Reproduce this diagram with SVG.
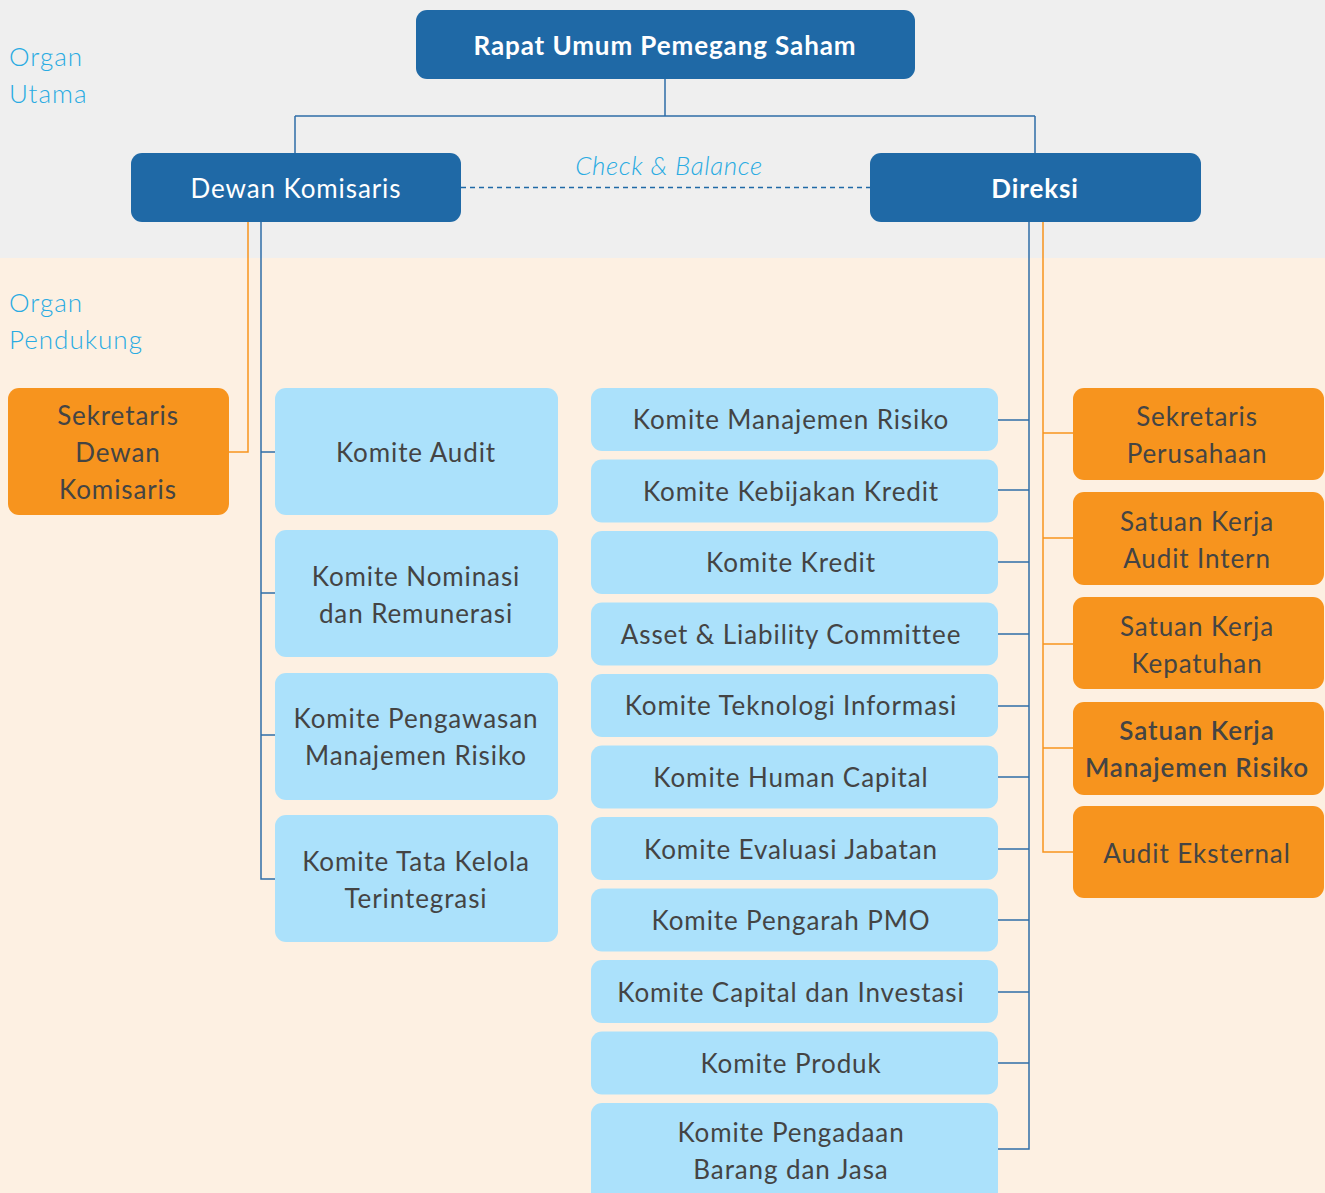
<svg xmlns="http://www.w3.org/2000/svg" width="1325" height="1193" viewBox="0 0 1325 1193">
<style>
.main{fill:#1f69a6}
.sub{fill:#abe1fb}
.sup{fill:#f7941e}
.t{font-family:Lato,"Liberation Sans",sans-serif;font-size:26px;letter-spacing:0.9px;fill:#444444;text-anchor:middle}
.w{font-family:Lato,"Liberation Sans",sans-serif;font-size:26px;letter-spacing:0.9px;fill:#ffffff;text-anchor:middle}
.b{font-weight:700}
.lbl{font-family:Lato,"Liberation Sans",sans-serif;font-size:26px;letter-spacing:1px;font-weight:300;fill:#29abe2}
.bl{stroke:#2f6da8;stroke-width:1.5;fill:none}
.or{stroke:#f7941e;stroke-width:1.5;fill:none}
</style>
<rect x="0" y="0" width="1325" height="258" fill="#efefef"/>
<rect x="0" y="258" width="1325" height="935" fill="#fdf0e2"/>
<text class="lbl" x="9" y="66">Organ</text>
<text class="lbl" x="9" y="103">Utama</text>
<text class="lbl" x="9" y="312">Organ</text>
<text class="lbl" x="9" y="349">Pendukung</text>
<g id="connectors">
<path class="bl" d="M665 79V116M295 116H1035M295 116V153M1035 116V153"/>
<path d="M461 187.5H870" stroke="#1f69a6" stroke-width="1.5" stroke-dasharray="5 4" fill="none"/>
<text x="669" y="175" style="font-family:Lato,'Liberation Sans',sans-serif;font-size:26px;letter-spacing:0.6px;font-style:italic;font-weight:300;fill:#29abe2;text-anchor:middle">Check &amp; Balance</text>
<path class="or" d="M248 222V452H229"/>
<path class="bl" d="M261 222V879H275M261 452H275M261 593H275M261 735H275"/>
<path class="bl" d="M1029 222V1149H998M998 420H1029M998 490H1029M998 562H1029M998 634H1029M998 706H1029M998 777H1029M998 849H1029M998 920H1029M998 992H1029M998 1063H1029"/>
<path class="or" d="M1043 222V852H1073M1043 433H1073M1043 538H1073M1043 644H1073M1043 748H1073"/>
</g>
<g id="rups"><rect class="main" x="416" y="10" width="499" height="69" rx="11"/><text class="w b" x="665" y="55">Rapat Umum Pemegang Saham</text></g>
<g id="dewan-komisaris"><rect class="main" x="131" y="153" width="330" height="69" rx="11"/><text class="w" x="296" y="198">Dewan Komisaris</text></g>
<g id="direksi"><rect class="main" x="870" y="153" width="331" height="69" rx="11"/><text class="w b" x="1035" y="198">Direksi</text></g>
<g id="sekretaris-dk"><rect class="sup" x="8" y="388" width="221" height="127" rx="11"/><text class="t" x="118" y="425">Sekretaris</text><text class="t" x="118" y="462">Dewan</text><text class="t" x="118" y="499">Komisaris</text></g>
<g id="komite-audit"><rect class="sub" x="275" y="388" width="283" height="127" rx="11"/><text class="t" x="416" y="462">Komite Audit</text></g>
<g id="komite-nominasi"><rect class="sub" x="275" y="530" width="283" height="127" rx="11"/><text class="t" x="416" y="586">Komite Nominasi</text><text class="t" x="416" y="623">dan Remunerasi</text></g>
<g id="komite-pengawasan"><rect class="sub" x="275" y="673" width="283" height="127" rx="11"/><text class="t" x="416" y="728">Komite Pengawasan</text><text class="t" x="416" y="765">Manajemen Risiko</text></g>
<g id="komite-tata-kelola"><rect class="sub" x="275" y="815" width="283" height="127" rx="11"/><text class="t" x="416" y="871">Komite Tata Kelola</text><text class="t" x="416" y="908">Terintegrasi</text></g>
<g id="k-mr"><rect class="sub" x="591" y="388" width="407" height="63" rx="11"/><text class="t" x="791" y="429">Komite Manajemen Risiko</text></g>
<g id="k-kk"><rect class="sub" x="591" y="459.5" width="407" height="63" rx="11"/><text class="t" x="791" y="501">Komite Kebijakan Kredit</text></g>
<g id="k-kredit"><rect class="sub" x="591" y="531" width="407" height="63" rx="11"/><text class="t" x="791" y="572">Komite Kredit</text></g>
<g id="k-alco"><rect class="sub" x="591" y="602.5" width="407" height="63" rx="11"/><text class="t" x="791" y="644">Asset &amp; Liability Committee</text></g>
<g id="k-ti"><rect class="sub" x="591" y="674" width="407" height="63" rx="11"/><text class="t" x="791" y="715">Komite Teknologi Informasi</text></g>
<g id="k-hc"><rect class="sub" x="591" y="745.5" width="407" height="63" rx="11"/><text class="t" x="791" y="787">Komite Human Capital</text></g>
<g id="k-ej"><rect class="sub" x="591" y="817" width="407" height="63" rx="11"/><text class="t" x="791" y="859">Komite Evaluasi Jabatan</text></g>
<g id="k-pmo"><rect class="sub" x="591" y="888.5" width="407" height="63" rx="11"/><text class="t" x="791" y="930">Komite Pengarah PMO</text></g>
<g id="k-ci"><rect class="sub" x="591" y="960" width="407" height="63" rx="11"/><text class="t" x="791" y="1002">Komite Capital dan Investasi</text></g>
<g id="k-produk"><rect class="sub" x="591" y="1031.5" width="407" height="63" rx="11"/><text class="t" x="791" y="1073">Komite Produk</text></g>
<g id="k-pbj"><rect class="sub" x="591" y="1103" width="407" height="100" rx="11"/><text class="t" x="791" y="1142">Komite Pengadaan</text><text class="t" x="791" y="1179">Barang dan Jasa</text></g>
<g id="sekper"><rect class="sup" x="1073" y="388" width="251" height="92" rx="11"/><text class="t" x="1197" y="426">Sekretaris</text><text class="t" x="1197" y="463">Perusahaan</text></g>
<g id="skai"><rect class="sup" x="1073" y="492" width="251" height="93" rx="11"/><text class="t" x="1197" y="531">Satuan Kerja</text><text class="t" x="1197" y="568">Audit Intern</text></g>
<g id="skk"><rect class="sup" x="1073" y="597" width="251" height="92" rx="11"/><text class="t" x="1197" y="636">Satuan Kerja</text><text class="t" x="1197" y="673">Kepatuhan</text></g>
<g id="skmr"><rect class="sup" x="1073" y="702" width="251" height="93" rx="11"/><text class="t" x="1197" y="740" font-weight="600">Satuan Kerja</text><text class="t" x="1197" y="777" font-weight="600">Manajemen Risiko</text></g>
<g id="audit-eksternal"><rect class="sup" x="1073" y="806" width="251" height="92" rx="11"/><text class="t" x="1197" y="863">Audit Eksternal</text></g>
</svg>
